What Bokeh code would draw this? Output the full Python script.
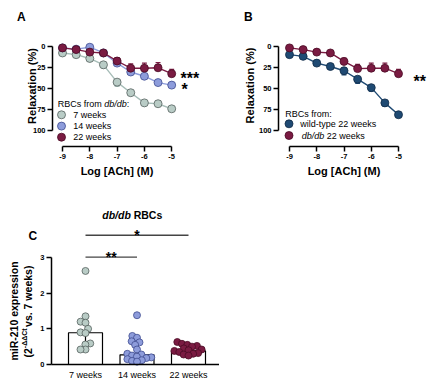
import math
from bokeh.plotting import figure
from bokeh.layouts import column, row
from bokeh.models import Range1d, FixedTicker, Label
from bokeh.embed import file_html
from bokeh.resources import INLINE

FONT = "Liberation Sans"

# ---------------- data ----------------
log_ach = [-9, -8.5, -8, -7.5, -7, -6.5, -6, -5.5, -5]
a_7w = [8, 10, 14.5, 22, 42.5, 55, 67, 68, 74]
a_7w_err = [1, 1, 2, 4, 5, 3, 3, 3, 3]
a_14w = [2, 3.5, 1.2, 8, 20, 30.5, 35.5, 43, 46]
a_14w_err = [1, 1, 1, 1, 2, 2, 2, 2, 2]
a_22w = [2, 4, 7, 8, 17.5, 26, 26, 25.5, 32.5]
a_22w_err = [1, 1, 1, 1, 4, 5, 6, 6, 5]
b_wt = [10, 12, 20, 24, 29, 39, 49, 67, 81]
b_wt_err = [1, 1, 1, 2, 5, 5, 4, 4, 3]
b_db = [2, 4, 7, 8, 18, 26.5, 26, 26, 32.5]
b_db_err = [1, 1, 1, 1, 4, 5, 6, 6, 5]
x_ticks = [-9, -8, -7, -6, -5]
x_tick_labels = ["-9", "-8", "-7", "-6", "-5"]
y_ticks = [0, 25, 50, 75, 100]
y_tick_labels = ["0", "25", "50", "75", "100"]

c_groups = ["7 weeks", "14 weeks", "22 weeks"]
c_7w = [2.62, 1.35, 1.20, 1.17, 1.00, 0.90, 0.88, 0.59, 0.56, 0.42, 0.42]
c_14w = [1.38, 0.80, 0.75, 0.65, 0.62, 0.55, 0.42, 0.30, 0.28, 0.25, 0.22,
         0.20, 0.18, 0.15, 0.12, 0.10, 0.08]
c_22w = [0.63, 0.58, 0.55, 0.52, 0.50, 0.45, 0.42, 0.40, 0.38, 0.35, 0.32,
         0.30, 0.28, 0.25]
c_median = [0.89, 0.27, 0.38]
c_q1 = [0.56, 0.14, 0.30]
c_q3 = [1.20, 0.57, 0.52]
c_ticks = [0, 1, 2, 3]
c_tick_labels = ["0", "1", "2", "3"]
sig_pairs = [(0, 2), (0, 1)]
sig_heights = [3.62, 3.01]
sig_labels = ["*", "**"]

# ---------------- colours ----------------
C7_FILL, C7_EDGE, C7_LINE = "#b9ccc6", "#56615e", "#a7bdb8"
C14_FILL, C14_EDGE, C14_LINE = "#8d9cdb", "#3f4b8f", "#8d9cdb"
C22_FILL, C22_EDGE, C22_LINE = "#7a1b42", "#4a0b25", "#7a1b42"
WT_FILL, WT_EDGE, WT_LINE = "#1f4a73", "#0f2a45", "#1f4a73"

# ---------------- pixel helpers (page coordinates, page origin = 0,0) ----------------
Y0, YS = 45.7, 0.846
def ay(py): return (py - Y0) / YS
def ax(px): return -9 + (px - 62) / 27.3
def bx(px): return -9 + (px - 289) / 27.25
C_YS = 35.7
C_TOP = 190
def cx(px): return (px - 85) / 51.5
def cy(py): return (364 - py) / C_YS

W_A, W_B, H_AB = 219, 217, 190
W_C, H_C = 219, 196


def style(p):
    p.grid.visible = False
    p.outline_line_color = None
    p.background_fill_color = "white"
    p.border_fill_color = "white"
    for a in p.axis:
        a.axis_line_width = 1.5
        a.axis_line_color = "black"
        a.major_tick_line_width = 1.5
        a.major_tick_line_color = "black"
        a.major_tick_in = 0
        a.major_tick_out = 5
        a.minor_tick_line_color = None
        a.major_label_text_font = FONT
        a.major_label_text_font_style = "bold"
        a.major_label_text_font_size = "7.5px"
        a.major_label_text_color = "black"
        a.major_label_standoff = 2


def make_fig(w, h, xr, yr):
    p = figure(width=w, height=h, x_range=xr, y_range=yr, title=None,
               min_border=0, min_border_left=0, min_border_right=0,
               min_border_top=0, min_border_bottom=0,
               output_backend="svg", toolbar_location=None)
    style(p)
    return p


def lab(p, x, y, text, size, fstyle="normal", align="left", baseline="middle", angle=0.0):
    p.add_layout(Label(x=x, y=y, text=text, text_font=FONT, text_font_size=f"{size}px",
                       text_font_style=fstyle, text_align=align, text_baseline=baseline,
                       angle=angle, text_color="black"))


def series(p, xs, ys, errs, sign, fill, edge, line, cap):
    tips = [y + sign * e for y, e in zip(ys, errs)]
    p.segment(x0=xs, y0=ys, x1=xs, y1=tips, line_color=line, line_width=1.2)
    p.segment(x0=[x - cap for x in xs], y0=tips, x1=[x + cap for x in xs], y1=tips,
              line_color=line, line_width=1.2)
    p.line(xs, ys, line_color=line, line_width=1.4)
    p.scatter(xs, ys, size=8, fill_color=fill, line_color=edge, line_width=0.8)


def curve_fig(w, xr, y_axis_x):
    p = make_fig(w, H_AB, xr, Range1d(ay(H_AB), ay(0)))
    p.xaxis.ticker = FixedTicker(ticks=x_ticks)
    p.xaxis.major_label_overrides = dict(zip(x_ticks, x_tick_labels))
    p.xaxis.bounds = (x_ticks[0], x_ticks[-1])
    p.xaxis.fixed_location = ay(146)
    p.yaxis.ticker = FixedTicker(ticks=y_ticks)
    p.yaxis.major_label_overrides = dict(zip(y_ticks, y_tick_labels))
    p.yaxis.bounds = (y_ticks[0], y_ticks[-1])
    p.yaxis.fixed_location = y_axis_x
    return p

# ---------------- panel A ----------------
pA = curve_fig(W_A, Range1d(ax(0), ax(W_A)), ax(52))
cap = 0.09
series(pA, log_ach, a_7w, a_7w_err, 1, C7_FILL, C7_EDGE, C7_LINE, cap)
series(pA, log_ach, a_14w, a_14w_err, 1, C14_FILL, C14_EDGE, C14_LINE, cap)
series(pA, log_ach, a_22w, a_22w_err, -1, C22_FILL, C22_EDGE, C22_LINE, cap)
lab(pA, ax(16.5), ay(16), "A", 12, "bold", baseline="alphabetic")
lab(pA, ax(31), ay(85.5), "Relaxation (%)", 11, "bold", align="center", angle=math.pi / 2)
lab(pA, ax(116.5), ay(170.3), "Log [ACh] (M)", 11, "bold", align="center")
lab(pA, ax(180), ay(77.5), "***", 16, "bold", baseline="alphabetic")
lab(pA, ax(181), ay(89), "*", 16, "bold", baseline="alphabetic")
lab(pA, ax(57.3), ay(103.3), "RBCs from", 9)
lab(pA, ax(103.8), ay(103.3), "db/db", 9, "italic")
lab(pA, ax(126.3), ay(103.3), ":", 9)
for yy, txt, f, e in [(114.3, "7 weeks", C7_FILL, C7_EDGE),
                      (125.6, "14 weeks", C14_FILL, C14_EDGE),
                      (136.7, "22 weeks", C22_FILL, C22_EDGE)]:
    pA.scatter([ax(61)], [ay(yy)], size=8, fill_color=f, line_color=e, line_width=0.8)
    lab(pA, ax(72.7), ay(yy), txt, 9)

# ---------------- panel B ----------------
pB = curve_fig(W_B, Range1d(bx(W_A), bx(W_A + W_B)), bx(278))
series(pB, log_ach, b_wt, b_wt_err, 1, WT_FILL, WT_EDGE, WT_LINE, cap)
series(pB, log_ach, b_db, b_db_err, -1, C22_FILL, C22_EDGE, C22_LINE, cap)
lab(pB, bx(243.5), ay(16), "B", 12, "bold", baseline="alphabetic")
lab(pB, bx(249), ay(85), "Relaxation (%)", 11, "bold", align="center", angle=math.pi / 2)
lab(pB, bx(343.5), ay(170.3), "Log [ACh] (M)", 11, "bold", align="center")
lab(pB, bx(413), ay(80.5), "**", 16, "bold", baseline="alphabetic")
lab(pB, bx(284.7), ay(113.3), "RBCs from:", 9)
pB.scatter([bx(288.5)], [ay(123.3)], size=8, fill_color=WT_FILL, line_color=WT_EDGE, line_width=0.8)
lab(pB, bx(299.7), ay(123.3), "wild-type 22 weeks", 9)
pB.scatter([bx(288.5)], [ay(135)], size=8, fill_color=C22_FILL, line_color=C22_EDGE, line_width=0.8)
lab(pB, bx(301.3), ay(135), "db/db", 9, "italic")
lab(pB, bx(326.3), ay(135), "22 weeks", 9)

# ---------------- panel C ----------------
pC = make_fig(W_C, H_C, Range1d(cx(0), cx(W_C)), Range1d(cy(C_TOP + H_C), cy(C_TOP)))
pC.yaxis.ticker = FixedTicker(ticks=c_ticks)
pC.yaxis.major_label_overrides = dict(zip(c_ticks, c_tick_labels))
pC.yaxis.bounds = (c_ticks[0], c_ticks[-1])
pC.yaxis.fixed_location = cx(51)
gx = list(range(len(c_groups)))
pC.xaxis.ticker = FixedTicker(ticks=gx)
pC.xaxis.major_label_overrides = dict(zip(gx, c_groups))
pC.xaxis.fixed_location = 0
pC.xaxis.bounds = (cx(51), cx(219))
pC.xaxis.major_tick_out = 0
pC.xaxis.major_tick_line_color = None
pC.xaxis.major_label_text_font_style = "normal"
pC.xaxis.major_label_text_font_size = "9px"
pC.xaxis.major_label_standoff = 5

pC.vbar(x=gx, top=c_median, width=0.66, fill_color="white", line_color="black", line_width=1.2)
ccap = 0.06
pC.segment(x0=gx, y0=c_q1, x1=gx, y1=c_q3, line_color="black", line_width=1.2)
for yq in (c_q1, c_q3):
    pC.segment(x0=[g - ccap for g in gx], y0=yq, x1=[g + ccap for g in gx], y1=yq,
               line_color="black", line_width=1.2)


def swarm_offsets(vals, d):
    order = sorted(range(len(vals)), key=lambda i: vals[i])
    placed, offs = [], [0.0] * len(vals)
    for i in order:
        y = vals[i] * C_YS
        cands = [0.0]
        for xo, yo in placed:
            dy = abs(yo - y)
            if dy < d:
                dx = math.sqrt(d * d - dy * dy)
                cands += [xo + dx, xo - dx]
        cands.sort(key=lambda c: (abs(c), c))
        for c in cands:
            if all((c - xo) ** 2 + (y - yo) ** 2 >= d * d - 1e-6 for xo, yo in placed):
                offs[i] = c
                placed.append((c, y))
                break
    return offs


for g, vals, f, e in [(0, c_7w, C7_FILL, C7_EDGE), (1, c_14w, C14_FILL, C14_EDGE),
                      (2, c_22w, C22_FILL, C22_EDGE)]:
    offs = swarm_offsets(vals, 5.0)
    xs = [g + o / 51.5 for o in offs]
    pC.scatter(xs, vals, size=7, fill_color=f, line_color=e, line_width=0.8)

for (g0, g1), h, s in zip(sig_pairs, sig_heights, sig_labels):
    pC.segment(x0=[g0], y0=[h], x1=[g1], y1=[h], line_color="#444444", line_width=1.3)
    lab(pC, (g0 + g1) / 2, h, s, 14, "bold", align="center", baseline="alphabetic")

lab(pC, cx(28), cy(235.7), "C", 12, "bold", baseline="alphabetic")
lab(pC, cx(130.3), cy(214), "db/db", 10.5, "bold italic", align="right")
lab(pC, cx(133.2), cy(214), "RBCs", 10.5, "bold")
lab(pC, cx(13.8), cy(310.5), "miR-210 expression", 10.5, "bold", align="center", angle=math.pi / 2)
lab(pC, cx(27.5), cy(357), "(2", 10.5, "bold", angle=math.pi / 2)
lab(pC, cx(24), cy(347.7), "-ΔΔCt", 7, "bold", angle=math.pi / 2)
lab(pC, cx(27.5), cy(326.4), "vs. 7 weeks)", 10.5, "bold", angle=math.pi / 2)

layout = column(row(pA, pB), pC)
open("out.html", "w").write(file_html(layout, INLINE))
